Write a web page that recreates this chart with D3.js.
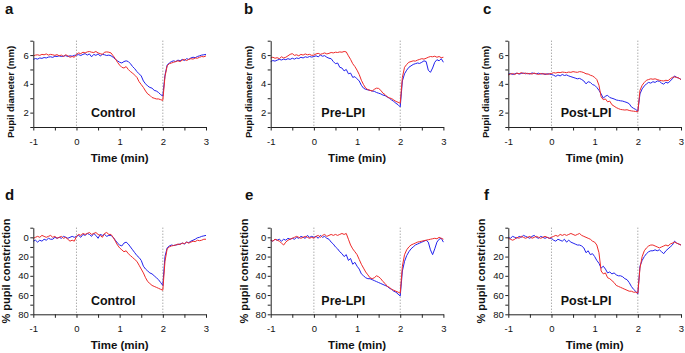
<!DOCTYPE html>
<html>
<head>
<meta charset="utf-8">
<script src="https://cdn.jsdelivr.net/npm/d3@7"></script>
<style>
  body { margin: 0; background: #fff; }
  text { font-family: 'Liberation Sans', Arial, sans-serif; fill: #111; }
  .narrow { font-family: 'Liberation Sans Narrow', 'Arial Narrow', 'Liberation Sans', sans-serif; }
</style>
</head>
<body>
<svg id="fig" width="685" height="353"></svg>
<script>
// sample times (min), one reading every 0.05 min
const times = d3.range(81).map(i => -1 + i * 0.05)

// pupil diameter (mm)
const aBlue = [5.70, 5.76, 5.72, 5.80, 5.77, 5.83, 5.80, 5.86, 5.88, 5.84, 5.92, 5.90, 5.95, 5.90, 5.93, 5.96, 5.90, 5.95, 5.92, 5.98,
  6.00, 6.03, 5.97, 6.05, 6.10, 6.00, 6.08, 5.88, 6.05, 5.98, 6.08, 5.94, 6.05, 6.02, 5.97, 6.00, 5.95, 5.85, 5.70, 5.60,
  5.50, 5.45, 5.55, 5.60, 5.55, 5.40, 5.20, 5.05, 4.85, 4.70, 4.55, 4.20, 4.00, 3.85, 3.75, 3.70, 3.55, 3.50, 3.40, 3.25,
  3.15, 4.60, 5.30, 5.45, 5.55, 5.60, 5.55, 5.65, 5.60, 5.70, 5.62, 5.75, 5.70, 5.80, 5.85, 5.82, 5.90, 5.95, 6.00, 6.02, 6.05]
const aRed = [5.95, 6.00, 6.02, 5.98, 6.05, 6.02, 6.08, 6.00, 6.05, 6.02, 5.98, 6.03, 5.95, 6.00, 5.90, 6.02, 5.95, 5.85, 5.90, 5.85,
  6.05, 6.15, 6.10, 6.20, 6.15, 6.22, 6.25, 6.20, 6.18, 6.25, 6.15, 6.10, 6.05, 6.20, 6.22, 6.20, 6.15, 5.95, 5.75, 5.50,
  5.30, 5.15, 5.10, 5.20, 5.00, 4.85, 4.75, 4.60, 4.45, 4.15, 3.95, 3.75, 3.50, 3.30, 3.20, 3.05, 3.00, 2.95, 2.95, 2.90,
  2.85, 4.50, 5.25, 5.40, 5.45, 5.50, 5.55, 5.60, 5.55, 5.65, 5.70, 5.62, 5.70, 5.75, 5.72, 5.80, 5.78, 5.85, 5.90, 5.88, 5.95]
const bBlue = [5.55, 5.62, 5.58, 5.65, 5.70, 5.66, 5.72, 5.68, 5.75, 5.70, 5.78, 5.72, 5.80, 5.76, 5.85, 5.80, 5.88, 5.84, 5.90, 5.86,
  5.90, 5.95, 5.88, 6.00, 5.92, 5.96, 5.85, 5.78, 5.75, 5.55, 5.40, 5.45, 5.15, 5.10, 4.90, 5.00, 4.70, 4.75, 4.45, 4.50,
  4.35, 4.20, 3.90, 3.70, 3.62, 3.58, 3.55, 3.50, 3.48, 3.40, 3.35, 3.30, 3.22, 3.18, 3.08, 3.00, 2.88, 2.78, 2.65, 2.55,
  2.40, 4.20, 4.70, 4.95, 5.15, 5.25, 5.35, 5.40, 5.45, 5.42, 5.50, 5.60, 5.55, 4.95, 4.80, 5.10, 5.50, 5.68, 5.60, 5.75, 5.50]
const bRed = [5.80, 5.85, 5.78, 5.82, 5.75, 5.88, 5.80, 5.85, 5.95, 6.05, 6.10, 5.98, 6.02, 5.95, 6.05, 6.00, 6.08, 6.02, 6.05, 5.98,
  6.00, 6.08, 6.12, 6.05, 6.10, 6.15, 6.08, 6.12, 6.18, 6.15, 6.20, 6.18, 6.22, 6.20, 6.25, 6.22, 5.95, 5.70, 5.40, 5.20,
  4.95, 4.65, 4.25, 3.95, 3.70, 3.60, 3.55, 3.50, 3.62, 3.70, 3.68, 3.55, 3.35, 3.25, 3.10, 3.02, 2.98, 2.88, 2.78, 2.72,
  2.65, 4.45, 5.15, 5.35, 5.50, 5.55, 5.60, 5.58, 5.65, 5.70, 5.75, 5.72, 5.78, 5.85, 5.90, 5.88, 5.92, 5.85, 5.90, 5.82, 5.85]
const cBlue = [4.68, 4.72, 4.65, 4.70, 4.74, 4.68, 4.72, 4.75, 4.70, 4.73, 4.68, 4.76, 4.72, 4.70, 4.74, 4.68, 4.72, 4.65, 4.70, 4.68,
  4.65, 4.60, 4.52, 4.62, 4.55, 4.65, 4.58, 4.62, 4.55, 4.50, 4.45, 4.40, 4.35, 4.38, 4.30, 4.20, 4.00, 4.15, 4.10, 3.95,
  3.90, 3.75, 3.55, 3.30, 3.00, 3.15, 3.20, 3.05, 3.00, 2.95, 2.88, 2.85, 2.82, 2.80, 2.75, 2.70, 2.62, 2.40, 2.30, 2.22,
  2.10, 3.30, 3.65, 3.85, 4.00, 4.10, 4.05, 4.15, 4.10, 4.20, 4.18, 4.05, 3.98, 4.12, 4.05, 4.20, 4.35, 4.55, 4.45, 4.40, 4.30]
const cRed = [4.62, 4.68, 4.72, 4.65, 4.75, 4.70, 4.78, 4.72, 4.75, 4.70, 4.72, 4.68, 4.75, 4.70, 4.65, 4.72, 4.68, 4.70, 4.66, 4.70,
  4.72, 4.78, 4.75, 4.80, 4.78, 4.82, 4.80, 4.78, 4.82, 4.80, 4.85, 4.82, 4.80, 4.85, 4.83, 4.78, 4.70, 4.68, 4.60, 4.55,
  4.45, 4.30, 3.90, 3.10, 2.90, 2.95, 2.75, 2.80, 2.55, 2.45, 2.35, 2.28, 2.22, 2.20, 2.18, 2.20, 2.15, 2.12, 2.10, 2.08,
  2.05, 3.55, 3.90, 4.10, 4.25, 4.30, 4.35, 4.32, 4.35, 4.30, 4.25, 4.22, 4.20, 4.25, 4.22, 4.35, 4.45, 4.48, 4.45, 4.40, 4.30]

// % pupil constriction
const dBlue = [4, 3, 5, 3, 4, 2, 3, 1, 2, 2, 0, 1, 0, 1, -1, 0, 1, 0, -1, 0,
  -1, -2, 0, -3, -2, -4, -3, -1, -4, -2, 1, -3, -2, -3, -1, -2, -2, 0, 3, 6,
  8, 9, 6, 5, 7, 10, 13, 16, 19, 21, 24, 30, 33, 35, 37, 38, 40, 42, 44, 47,
  50, 20, 11, 9, 8, 8.5, 8, 7.5, 7, 6, 7, 5, 5.5, 4, 3, 2, 0.5, 0, -1, -1.5, -2]
const dRed = [1, 0, -1, 0, -2, -1, 0, -1, -2, 0, -1, 1, 0, -1, 1, 0, 2, 4, 3, 4,
  -1, -3, -2, -4, -3, -4, -5, -3, -4, -5, -3, -2, 0, -4, -5, -3, -3, 0, 4, 8,
  11, 13, 15, 14, 17, 19, 21, 23, 25, 29, 33, 37, 42, 46, 48, 50, 51, 52, 53, 54,
  55, 25, 12, 10, 9, 8.5, 8, 7, 7.5, 6, 6.5, 5, 6, 5, 4, 4.5, 3, 3.5, 3, 2, 2]
const eBlue = [3, 4, 2, 3, 2, 4, 2, 3, 1, 2, 1, 2, 0, 1, -1, 0, 1, -2, 0, -1,
  0, -1, 1, -2, 0, -1, 1, 2, 5, 7, 10, 12, 15, 17, 20, 18, 24, 22, 28, 26,
  30, 33, 38, 40, 42, 43, 43, 44, 45, 46, 47, 48, 49, 50, 51, 53, 54, 56, 57, 59,
  61, 35, 25, 19, 15, 12, 10, 8, 7, 6, 5, 4, 3, 5, 13, 18, 12, 5, 2, 1, 5]
const eRed = [3, 4, 2, 3, 4, 6, 8, 5, 3, 2, 1, 0, -1, 0, 1, 0, -1, 0, 1, 0,
  1, -1, -2, 0, -2, -3, -1, -2, -3, -2, -3, -2, -3, -4, -3, -4, 2, 8, 12, 15,
  18, 23, 28, 32, 36, 39, 42, 43, 42, 40, 41, 43, 46, 48, 51, 52, 54, 55, 56, 57,
  58, 30, 18, 13, 10, 8, 7, 6, 5, 4.5, 4, 3.5, 3, 2.5, 2, 1.5, 1, 1.5, 0, 1, 2]
const fBlue = [0, 1, -1, 0, 1, -1, 0, -2, -1, 0, 1, -1, -2, 0, 1, -1, 0, 1, 0, 1,
  1, 3, 4, 2, 3, 4, 2, 5, 3, 5, 6, 7, 8, 8, 9, 11, 16, 14, 18, 17,
  20, 24, 27, 32, 30, 33, 37, 36, 38, 37, 39, 40, 40, 41, 43, 44, 47, 51, 54, 56,
  59, 30, 24, 20, 17, 15, 14, 14, 13, 14, 13, 15, 17, 14, 12, 10, 8, 4, 6, 7, 8]
const fRed = [1, 2, 3, 2, 0, 1, -1, 0, 1, 0, -1, 1, 0, -1, 0, 1, 0, -1, 0, 1,
  0, -1, -2, -1, -3, -2, -3, -2, -3, -4, -3, -2, -3, -4, -2, -1, 0, 1, 2, 4,
  5, 8, 16, 35, 38, 37, 42, 43, 45, 47, 50, 51, 52, 53, 54, 55, 56, 56, 57, 57,
  58, 32, 20, 14, 11, 9, 8, 8, 9, 10, 11, 10, 9, 8, 9, 7, 6, 5, 6, 7, 8]

const letters = ['a', 'b', 'c', 'd', 'e', 'f']
const conditions = ['Control', 'Pre-LPI', 'Post-LPI']
const xTicks = [-1, -0.5, 0, 0.5, 1, 1.5, 2, 2.5, 3]
const markers = [0, 2]
const diamTicks = [1, 2, 3, 4, 5, 6, 7]
const constrTicks = [-10, 0, 10, 20, 30, 40, 50, 60, 70, 80]

const blueColor = '#2222ee'
const redColor = '#ee2a2a'

const svg = d3.select('#fig')
const colX = [33.3, 270.7, 508.3]
const plotW = 172.7
const rows = [
  { top: 40.7, bottom: 127, domain: [1, 7], ticks: diamTicks, labelEvery: 2, title: 'Pupil diameter (mm)', titleOff: -22.5, titleY: 92, titleSize: 9.6, textY: 1.7, series: [[aBlue, aRed], [bBlue, bRed], [cBlue, cRed]] },
  { top: 227.7, bottom: 314.3, domain: [80, -10], ticks: constrTicks, labelEvery: 20, title: '% pupil constriction', titleOff: -27, titleY: 271, titleSize: 11, textY: 70.3, series: [[dBlue, dRed], [eBlue, eRed], [fBlue, fRed]] }
]
const textX = [0.85, 0.68, 0.8]
const letterPos = [[5, 13.5], [244, 13.5], [483, 13.5], [5, 200], [245, 200], [484, 200]]

rows.forEach((row, r) => {
  colX.forEach((x0, c) => {
    const x = d3.scaleLinear().domain([-1, 3]).range([x0, x0 + plotW])
    const y = d3.scaleLinear().domain(row.domain).range([row.bottom, row.top])
    const g = svg.append('g')

    // dotted markers at 0 and 2 min
    g.selectAll('.marker').data(markers)
      .enter().append('line')
      .attr('x1', d => x(d)).attr('x2', d => x(d))
      .attr('y1', row.top).attr('y2', row.bottom)
      .attr('stroke', '#888')
      .attr('stroke-width', 1)
      .attr('stroke-dasharray', '1,2')

    const line = d3.line()
      .x((d, i) => x(times[i]))
      .y(d => y(d))
    const pair = row.series[c]
    g.append('path').datum(pair[0])
      .attr('d', line)
      .attr('fill', 'none')
      .attr('stroke', blueColor)
      .attr('stroke-width', 1)
    g.append('path').datum(pair[1])
      .attr('d', line)
      .attr('fill', 'none')
      .attr('stroke', redColor)
      .attr('stroke-width', 1)

    const yAxis = d3.axisLeft(y)
      .tickValues(row.ticks)
      .tickSize(3)
      .tickSizeOuter(0)
      .tickPadding(1.5)
      .tickFormat(d => (d % row.labelEvery === 0 && d >= 0 && (r === 1 || d > 1)) ? d : '')
    const yAxisG = g.append('g')
      .attr('transform', `translate(${x0},0)`)
      .call(yAxis)

    const xAxis = d3.axisBottom(x)
      .tickValues(xTicks)
      .tickSize(3.5)
      .tickSizeOuter(0)
      .tickPadding(7.5)
      .tickFormat(d => Number.isInteger(d) ? d : '')
    const xAxisG = g.append('g')
      .attr('transform', `translate(0,${row.bottom})`)
      .call(xAxis)

    g.selectAll('.domain').attr('stroke', '#222')
    g.selectAll('.tick line').attr('stroke', '#222')
    g.selectAll('.tick text')
      .style('font-family', "'Liberation Sans', Arial, sans-serif")
      .style('font-size', '9.5px')
      .attr('fill', '#111')

    g.append('text')
      .attr('class', 'narrow')
      .attr('x', x(1))
      .attr('y', row.bottom + 34.5)
      .attr('text-anchor', 'middle')
      .style('font-size', '11.5px')
      .style('font-weight', 'bold')
      .text('Time (min)')

    g.append('text')
      .attr('class', 'narrow')
      .attr('transform', `translate(${x0 + row.titleOff},${row.titleY}) rotate(-90)`)
      .attr('text-anchor', 'middle')
      .attr('dy', '0.35em')
      .style('font-size', row.titleSize + 'px')
      .style('font-weight', 'bold')
      .text(row.title)

    g.append('text')
      .attr('x', x(textX[c]))
      .attr('y', y(row.textY))
      .attr('text-anchor', 'middle')
      .style('font-size', '12.5px')
      .style('font-weight', 'bold')
      .text(conditions[c])

    const k = r * 3 + c
    svg.append('text')
      .attr('x', letterPos[k][0])
      .attr('y', letterPos[k][1])
      .style('font-size', '15px')
      .style('font-weight', 'bold')
      .text(letters[k])
  })
})
</script>
</body>
</html>
